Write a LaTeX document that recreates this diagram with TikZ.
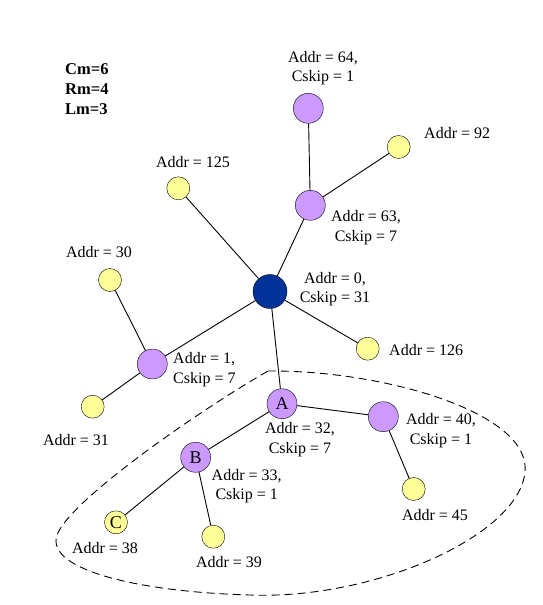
\documentclass[tikz,border=0pt]{standalone}
\usepackage{fontspec}
\setmainfont{Liberation Serif}
\definecolor{pnode}{HTML}{CC99FF}
\definecolor{ynode}{HTML}{FFFF99}
\definecolor{rnode}{HTML}{003399}
\begin{document}
\begin{tikzpicture}[x=1pt,y=-1pt,
  purp/.style={circle,draw=black,fill=pnode,minimum size=30pt,inner sep=0pt,font=\fontsize{18}{18}\selectfont},
  yel/.style={circle,draw=black,fill=ynode,minimum size=23pt,inner sep=0pt,font=\fontsize{18}{18}\selectfont},
  rootn/.style={circle,draw=black,fill=rnode,minimum size=34pt,inner sep=0pt},
  lab/.style={inner sep=0pt,align=center,font=\fontsize{16}{19.5}\selectfont},
  labl/.style={inner sep=0pt,align=left,font=\fontsize{16}{19.5}\selectfont},
  param/.style={inner sep=0pt,anchor=west,font=\fontsize{16.5}{20}\selectfont\bfseries},
  edge/.style={draw=black,line width=0.9pt}]
\useasboundingbox (0,0) rectangle (543,605);
% dashed region
\draw[dashed,line width=0.9pt,dash pattern=on 8pt off 5pt]
  (268,371) .. controls (380,370) and (520,410) .. (525,465)
  .. controls (530,530) and (380,600) .. (250,595)
  .. controls (140,592) and (45,570) .. (57,535)
  .. controls (70,500) and (200,410) .. (268,371);
% parameters
\node[param] (cm) at (65,69) {Cm=6};
\node[param] (rm) at (65,89) {Rm=4};
\node[param] (lm) at (65,109) {Lm=3};
% nodes
\node[rootn] (n0) at (270,291.5) {};
\node[purp] (n64) at (308.3,108.3) {};
\node[yel] (n92) at (398.7,147) {};
\node[purp] (n63) at (310.3,205.3) {};
\node[yel] (n125) at (178.3,188.3) {};
\node[yel] (n30) at (110,280) {};
\node[purp] (n1) at (152.3,364) {};
\node[yel] (n31) at (92.7,406.7) {};
\node[yel] (n126) at (367.7,348.7) {};
\node[purp] (nA) at (282,403.7) {A};
\node[purp] (n40) at (383.3,416.7) {};
\node[yel] (n45) at (413.7,489) {};
\node[purp] (nB) at (195.7,457.3) {B};
\node[yel] (nC) at (116,522.3) {C};
\node[yel] (n39) at (213.3,536.7) {};
% edges
\path[edge] (n0) -- (n63);
\path[edge] (n63) -- (n64);
\path[edge] (n63) -- (n92);
\path[edge] (n0) -- (n125);
\path[edge] (n0) -- (n1);
\path[edge] (n1) -- (n30);
\path[edge] (n1) -- (n31);
\path[edge] (n0) -- (n126);
\path[edge] (n0) -- (nA);
\path[edge] (nA) -- (nB);
\path[edge] (nA) -- (n40);
\path[edge] (n40) -- (n45);
\path[edge] (nB) -- (nC);
\path[edge] (nB) -- (n39);
% labels
\node[lab] (l64) at (323,68) {Addr = 64,\\Cskip = 1};
\node[lab,anchor=west] (l92) at (424,133) {Addr = 92};
\node[lab] (l63) at (366,227.5) {Addr = 63,\\Cskip = 7};
\node[lab] (l125) at (193,161.7) {Addr = 125};
\node[lab] (l30) at (99,252) {Addr = 30};
\node[lab] (l0) at (335,289) {Addr = 0,\\Cskip = 31};
\node[labl,anchor=west] (l1) at (173,369.7) {Addr = 1,\\Cskip = 7};
\node[lab] (l31) at (76,440) {Addr = 31};
\node[lab,anchor=west] (l126) at (389,350) {Addr = 126};
\node[lab] (l32) at (300,439.5) {Addr = 32,\\Cskip = 7};
\node[lab] (l40) at (441,430.5) {Addr = 40,\\Cskip = 1};
\node[lab] (l33) at (246.7,486.3) {Addr = 33,\\Cskip = 1};
\node[lab] (l45) at (435,515) {Addr = 45};
\node[lab] (l38) at (105,548.3) {Addr = 38};
\node[lab] (l39) at (229,561.7) {Addr = 39};
\end{tikzpicture}
\end{document}
